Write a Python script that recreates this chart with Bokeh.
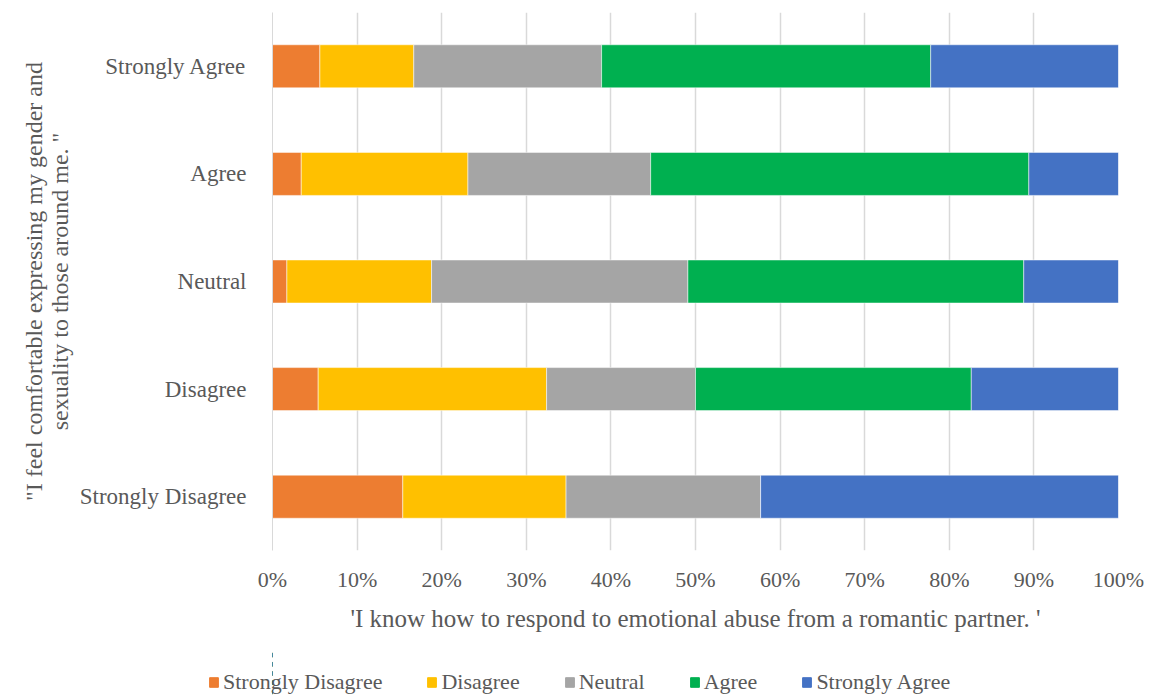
from bokeh.plotting import figure
from bokeh.layouts import column
from bokeh.models import Legend, LegendItem, NumeralTickFormatter, FixedTicker, Range1d
from bokeh.embed import file_html
from bokeh.resources import INLINE

categories = ["Strongly Disagree", "Disagree", "Neutral", "Agree", "Strongly Agree"]
series = ["Strongly Disagree", "Disagree", "Neutral", "Agree", "Strongly Agree"]
colors = ["#ED7D31", "#FFC000", "#A5A5A5", "#00B050", "#4472C4"]

# shares per row (order of categories), in fraction of 100%
strongly_disagree = [0.154, 0.054, 0.017, 0.034, 0.056]
disagree = [0.193, 0.270, 0.171, 0.197, 0.111]
neutral = [0.230, 0.176, 0.303, 0.216, 0.222]
agree = [0.000, 0.326, 0.397, 0.447, 0.389]
strongly_agree = [0.423, 0.174, 0.112, 0.106, 0.222]

data = {"cat": categories, series[0]: strongly_disagree, series[1]: disagree,
        series[2]: neutral, series[3]: agree, series[4]: strongly_agree}

FONT = "Liberation Serif"
TXT = "#595959"

p = figure(frame_width=846, frame_height=538, y_range=categories, x_range=Range1d(0, 1),
           output_backend="svg", toolbar_location=None,
           min_border_left=272, min_border_right=34, min_border_top=12, min_border_bottom=100)
p.outline_line_color = None

rs = p.hbar_stack(series, y="cat", height=0.4, color=colors, source=data,
                  line_color="white", line_width=0.5)

p.xaxis.ticker = FixedTicker(ticks=[i / 10 for i in range(11)])
p.xaxis.formatter = NumeralTickFormatter(format="0%")
p.xaxis.axis_line_color = None
p.xaxis.major_tick_line_color = None
p.xaxis.minor_tick_line_color = None
p.xaxis.major_label_text_font = FONT
p.xaxis.major_label_text_font_size = "22px"
p.xaxis.major_label_text_color = TXT
p.xaxis.major_label_standoff = 10
p.xaxis.axis_label = "'I know how to respond to emotional abuse from a romantic partner. '"
p.xaxis.axis_label_text_font = FONT
p.xaxis.axis_label_text_font_size = "25px"
p.xaxis.axis_label_text_font_style = "normal"
p.xaxis.axis_label_text_color = TXT
p.xaxis.axis_label_standoff = 10

p.yaxis.axis_line_color = "#D9D9D9"
p.yaxis.major_tick_line_color = None
p.yaxis.minor_tick_line_color = None
p.yaxis.major_label_text_font = FONT
p.yaxis.major_label_text_font_size = "23px"
p.yaxis.major_label_text_color = TXT
p.yaxis.major_label_standoff = 20
p.yaxis.axis_label = "\"I feel comfortable expressing my gender and\nsexuality to those around me. \""
p.yaxis.axis_label_text_font = FONT
p.yaxis.axis_label_text_font_size = "24px"
p.yaxis.axis_label_text_font_style = "normal"
p.yaxis.axis_label_text_color = TXT
p.yaxis.axis_label_text_line_height = 1.0
p.yaxis.axis_label_standoff = 4

p.xgrid.grid_line_color = "#D9D9D9"
p.xgrid.grid_line_width = 1.5
p.ygrid.grid_line_color = None

# legend strip: a small figure whose bars lie outside its visible range
lg = figure(frame_width=1152, frame_height=46, y_range=categories, x_range=Range1d(2, 3),
            output_backend="svg", toolbar_location=None, x_axis_type=None, y_axis_type=None,
            min_border=0)
lg.outline_line_color = None
lg.xgrid.visible = False
lg.ygrid.visible = False
lrs = lg.hbar_stack(series, y="cat", height=0.4, color=colors, source=data)

legend = Legend(items=[LegendItem(label=s, renderers=[r]) for s, r in zip(series, lrs)],
                orientation="horizontal", location=(208, 1),
                label_text_font=FONT, label_text_font_size="22px", label_text_color=TXT,
                glyph_width=11, glyph_height=12, label_standoff=4, spacing=44,
                border_line_color=None, background_fill_alpha=0, padding=0, margin=0)
lg.add_layout(legend, "center")

open("out.html", "w").write(file_html(column(p, lg, spacing=0), INLINE))
